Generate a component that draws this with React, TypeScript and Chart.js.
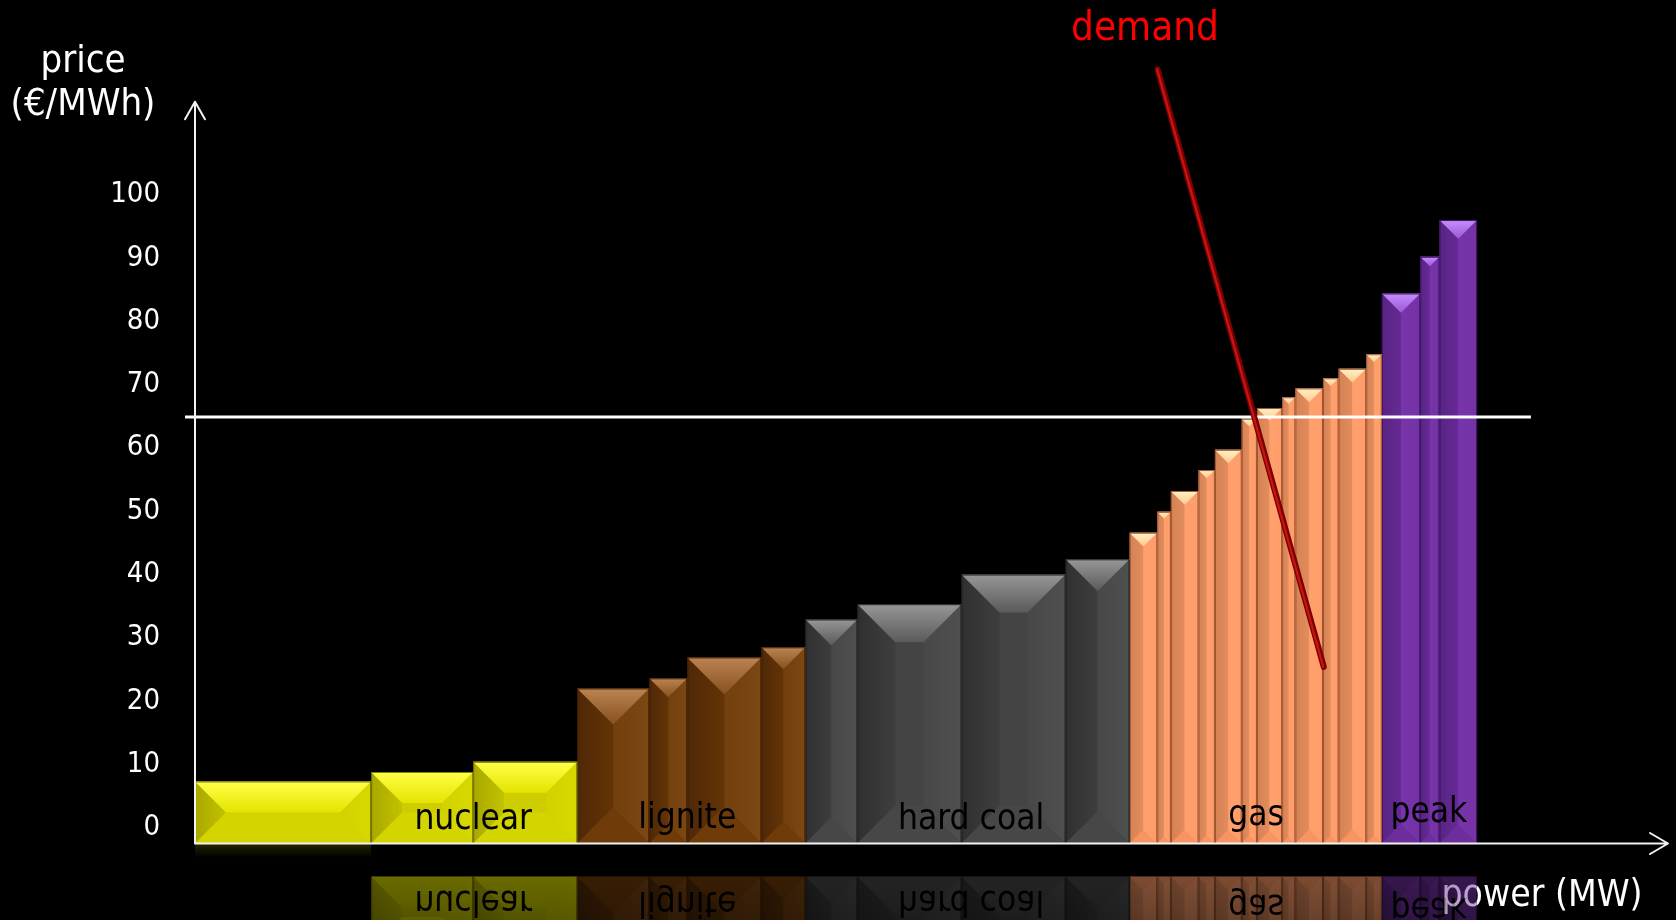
import React, { useEffect, useRef } from 'react';
import { Chart, registerables } from 'chart.js';

Chart.register(...registerables);

// ---------- data ----------
const categories = ['nuclear', 'lignite', 'hard coal', 'gas', 'peak'];

// capacity of each plant block (MW) and its marginal price (€/MWh)
const nuclearCapacity = [4400, 2550, 2600];
const nuclearPrice = [7.3, 8.8, 10.4];

const ligniteCapacity = [1800, 950, 1850, 1100];
const lignitePrice = [22.0, 23.6, 26.9, 28.5];

const hardCoalCapacity = [1300, 2600, 2600, 1600];
const hardCoalPrice = [32.9, 35.3, 40.0, 42.4];

const gasCapacity = [690, 340, 690, 410, 670, 380, 630, 330, 690, 390, 690, 390];
const gasPrice = [46.6, 49.9, 53.2, 56.5, 59.7, 64.6, 66.3, 68.0, 69.4, 71.0, 72.5, 74.8];

const peakCapacity = [960, 480, 940];
const peakPrice = [84.4, 90.2, 96.0];

// market clearing price line
const clearingPrice = 64.9;
const clearingPowerRange = [-250, 33375];

// demand curve (two end points)
const demandPower = [24050, 28200];
const demandPrice = [119.8, 25.4];

// y axis
const yTicks = [0, 10, 20, 30, 40, 50, 60, 70, 80, 90, 100];
const Y_MIN = -2.5;
const Y_MAX = 125;
const Y_ARROW = 114.7;
const X_MAX = 36800;

// category label anchors (MW, €/MWh)
const labelPower = [6950, 12300, 19390, 26510, 30825];
const labelPrice = [-0.2, -0.1, -0.2, 0.4, 0.9];

const capacities = [nuclearCapacity, ligniteCapacity, hardCoalCapacity, gasCapacity, peakCapacity];
const prices = [nuclearPrice, lignitePrice, hardCoalPrice, gasPrice, peakPrice];

// ---------- styles ----------
const FONT = "'DejaVu Sans Condensed', 'DejaVu Sans', sans-serif";

const groupStyles = [
  { bevel: 31, base: '#cdcd00', top: ['#ffff48', '#e4e400'], left: ['#a8a800', '#c2c200'], right: ['#d2d200', '#d8d800'], bottom: '#d4d400', edge: 'rgba(70,70,0,0.7)' },
  { bevel: 38, base: '#6b3806', top: ['#bc8452', '#86501f'], left: ['#502808', '#633405'], right: ['#72400e', '#7c4713'], bottom: '#6f3b08', edge: '#3a1c00' },
  { bevel: 38, base: '#444444', top: ['#979797', '#5a5a5a'], left: ['#303030', '#3e3e3e'], right: ['#484848', '#4f4f4f'], bottom: '#474747', edge: '#1e1e1e' },
  { bevel: 38, base: '#ff9966', top: ['#fff2c4', '#ffc890'], left: ['#d38255', '#e48c5d'], right: ['#ffa06c', '#ff9d69'], bottom: '#f89462', edge: '#9c5230' },
  { bevel: 38, base: '#7030a0', top: ['#c88cff', '#9a5ad6'], left: ['#582484', '#662a94'], right: ['#7834aa', '#7532a6'], bottom: '#6c2e9a', edge: '#3a1260' },
];

type BarInfo = { group: number };

function buildDatasets() {
  const datasets: any[] = [];
  const barInfo: Record<number, BarInfo> = {};
  let cum = 0;
  capacities.forEach((caps, gi) => {
    caps.forEach((c, i) => {
      const x0 = cum;
      const x1 = cum + c;
      cum = x1;
      const p = prices[gi][i];
      barInfo[datasets.length] = { group: gi };
      datasets.push({
        type: 'line',
        label: `${categories[gi]} ${i + 1}`,
        data: [
          { x: x0, y: Y_MIN },
          { x: x0, y: p },
          { x: x1, y: p },
          { x: x1, y: Y_MIN },
        ],
        fill: 'start',
        backgroundColor: groupStyles[gi].base,
        borderColor: groupStyles[gi].edge,
        borderWidth: 0,
        pointRadius: 0,
        tension: 0,
        order: 2,
      });
    });
  });
  datasets.push({
    type: 'line',
    label: 'clearing price',
    data: [
      { x: clearingPowerRange[0], y: clearingPrice },
      { x: clearingPowerRange[1], y: clearingPrice },
    ],
    borderColor: '#ffffff',
    borderWidth: 3,
    pointRadius: 0,
    fill: false,
    clip: false,
    order: 1,
  });
  const demandIndex = datasets.length;
  datasets.push({
    type: 'line',
    label: 'demand',
    data: demandPower.map((x, i) => ({ x, y: demandPrice[i] })),
    borderColor: '#7c0000',
    borderWidth: 6,
    borderCapStyle: 'round',
    pointRadius: 0,
    fill: false,
    clip: false,
    order: 0,
  });
  return { datasets, barInfo, demandIndex, totalPower: cum };
}

function poly(ctx: CanvasRenderingContext2D, pts: number[][], fill: string | CanvasGradient) {
  ctx.beginPath();
  ctx.moveTo(pts[0][0], pts[0][1]);
  for (let i = 1; i < pts.length; i++) ctx.lineTo(pts[i][0], pts[i][1]);
  ctx.closePath();
  ctx.fillStyle = fill;
  ctx.fill();
}

export default function App() {
  const canvasRef = useRef<HTMLCanvasElement | null>(null);

  useEffect(() => {
    document.body.style.margin = '0';
    document.body.style.background = '#000';
    const canvas = canvasRef.current;
    if (!canvas) return;
    const { datasets, barInfo, demandIndex, totalPower } = buildDatasets();

    const bevelPlugin = {
      id: 'bevel',
      afterDatasetDraw(chart: any, args: any) {
        const ctx: CanvasRenderingContext2D = chart.ctx;
        const idx = args.index;
        const meta = args.meta;
        if (idx === demandIndex) {
          const p = meta.data;
          ctx.save();
          ctx.strokeStyle = '#c81414';
          ctx.lineWidth = 2.2;
          ctx.lineCap = 'round';
          ctx.beginPath();
          ctx.moveTo(p[0].x - 0.5, p[0].y);
          ctx.lineTo(p[1].x - 0.5, p[1].y);
          ctx.stroke();
          ctx.restore();
          return;
        }
        const info = barInfo[idx];
        if (!info) return;
        const st = groupStyles[info.group];
        const pts = meta.data;
        const L = pts[1].x;
        const T = pts[1].y;
        const R = pts[2].x;
        const B = pts[0].y;
        const w = R - L;
        const h = B - T;
        const b = Math.min(st.bevel, w / 2, h / 2);
        ctx.save();
        poly(ctx, [[L + b, T + b], [R - b, T + b], [R - b, B - b], [L + b, B - b]], st.base);
        const gl = ctx.createLinearGradient(L, 0, L + b, 0);
        gl.addColorStop(0, st.left[0]);
        gl.addColorStop(1, st.left[1]);
        poly(ctx, [[L, T], [L + b, T + b], [L + b, B - b], [L, B]], gl);
        const gr = ctx.createLinearGradient(R - b, 0, R, 0);
        gr.addColorStop(0, st.right[0]);
        gr.addColorStop(1, st.right[1]);
        poly(ctx, [[R, T], [R - b, T + b], [R - b, B - b], [R, B]], gr);
        poly(ctx, [[L, B], [L + b, B - b], [R - b, B - b], [R, B]], st.bottom);
        const gt = ctx.createLinearGradient(0, T, 0, T + b);
        gt.addColorStop(0, st.top[0]);
        gt.addColorStop(1, st.top[1]);
        poly(ctx, [[L, T], [R, T], [R - b, T + b], [L + b, T + b]], gt);
        ctx.strokeStyle = st.edge;
        ctx.lineWidth = 1;
        ctx.beginPath();
        ctx.moveTo(L + 0.5, B);
        ctx.lineTo(L + 0.5, T + 0.5);
        ctx.lineTo(R - 0.5, T + 0.5);
        ctx.lineTo(R - 0.5, B);
        ctx.stroke();
        ctx.restore();
      },
      afterDatasetsDraw(chart: any) {
        const ctx: CanvasRenderingContext2D = chart.ctx;
        const xs = chart.scales.x;
        const ys = chart.scales.y;
        const B = chart.chartArea.bottom;
        const x0 = xs.getPixelForValue(0);

        // category labels
        ctx.save();
        ctx.fillStyle = '#000';
        ctx.font = `35px ${FONT}`;
        ctx.textAlign = 'center';
        ctx.textBaseline = 'alphabetic';
        categories.forEach((c, i) => {
          ctx.fillText(c, xs.getPixelForValue(labelPower[i]), ys.getPixelForValue(labelPrice[i]));
        });
        ctx.restore();

        // axis title texts
        ctx.save();
        ctx.textAlign = 'center';
        ctx.textBaseline = 'alphabetic';
        ctx.fillStyle = '#ffffff';
        ctx.font = `38px ${FONT}`;
        ctx.fillText('price', 83, 72);
        ctx.fillText('(€/MWh)', 83, 115);
        ctx.font = `37px ${FONT}`;
        ctx.fillText('power (MW)', 1542, 906);
        ctx.fillStyle = '#ff0000';
        ctx.font = `40px ${FONT}`;
        ctx.fillText('demand', 1145, 40);
        ctx.restore();

        // shadow under first block
        const firstEnd = xs.getPixelForValue(nuclearCapacity[0]);
        ctx.save();
        const sg = ctx.createLinearGradient(0, B, 0, B + 14);
        sg.addColorStop(0, 'rgba(70,70,0,0.55)');
        sg.addColorStop(1, 'rgba(70,70,0,0)');
        ctx.fillStyle = sg;
        ctx.fillRect(x0, B, firstEnd - x0, 14);
        ctx.restore();

        // reflection
        const sx = Math.round(firstEnd);
        const ex = Math.round(xs.getPixelForValue(totalPower));
        const sw = ex - sx;
        const sh = 50;
        const sy = Math.round(B) - sh;
        const off = document.createElement('canvas');
        off.width = sw;
        off.height = sh;
        const octx = off.getContext('2d') as CanvasRenderingContext2D;
        octx.drawImage(chart.canvas, sx, sy, sw, sh, 0, 0, sw, sh);
        octx.globalCompositeOperation = 'destination-in';
        const fg = octx.createLinearGradient(0, sh, 0, 0);
        fg.addColorStop(0, 'rgba(0,0,0,0.5)');
        fg.addColorStop(1, 'rgba(0,0,0,0.4)');
        octx.fillStyle = fg;
        octx.fillRect(0, 0, sw, sh);
        ctx.save();
        ctx.translate(sx, Math.round(B) + 32 + sh);
        ctx.scale(1, -1);
        ctx.drawImage(off, 0, 0);
        ctx.restore();

        // axes with arrows
        ctx.save();
        ctx.strokeStyle = '#f2f2f2';
        ctx.lineWidth = 2;
        ctx.lineCap = 'round';
        ctx.lineJoin = 'round';
        const yTip = ys.getPixelForValue(Y_ARROW);
        ctx.beginPath();
        ctx.moveTo(x0, B);
        ctx.lineTo(x0, yTip);
        ctx.moveTo(x0 - 10, yTip + 17.5);
        ctx.lineTo(x0, yTip);
        ctx.lineTo(x0 + 10, yTip + 17.5);
        const xTip = xs.getPixelForValue(X_MAX);
        ctx.moveTo(x0, B);
        ctx.lineTo(xTip, B);
        ctx.moveTo(xTip - 18, B - 10.5);
        ctx.lineTo(xTip, B);
        ctx.lineTo(xTip - 18, B + 10.5);
        ctx.stroke();
        ctx.restore();
      },
    };

    const chart = new Chart(canvas, {
      type: 'line',
      data: { datasets },
      options: {
        responsive: false,
        animation: false,
        devicePixelRatio: 1,
        events: [],
        layout: { padding: { left: 0, right: 8, top: 36.5, bottom: 76.5 } },
        plugins: { legend: { display: false }, tooltip: { enabled: false } },
        scales: {
          x: { type: 'linear', min: 0, max: X_MAX, display: false },
          y: {
            type: 'linear',
            min: Y_MIN,
            max: Y_MAX,
            grid: { display: false, drawTicks: false },
            border: { display: false },
            afterBuildTicks: (s: any) => {
              s.ticks = yTicks.map((v) => ({ value: v }));
            },
            afterFit: (s: any) => {
              s.width = 195;
              s.paddingTop = 0;
              s.paddingBottom = 0;
            },
            ticks: {
              color: '#ffffff',
              padding: 35,
              font: { family: FONT, size: 29 },
            },
          },
        },
      } as any,
      plugins: [bevelPlugin],
    });
    return () => chart.destroy();
  }, []);

  return (
    <div style={{ position: 'fixed', left: 0, top: 0, width: 1676, height: 920, background: '#000' }}>
      <canvas ref={canvasRef} width={1676} height={920} style={{ display: 'block', width: 1676, height: 920 }} />
    </div>
  );
}
